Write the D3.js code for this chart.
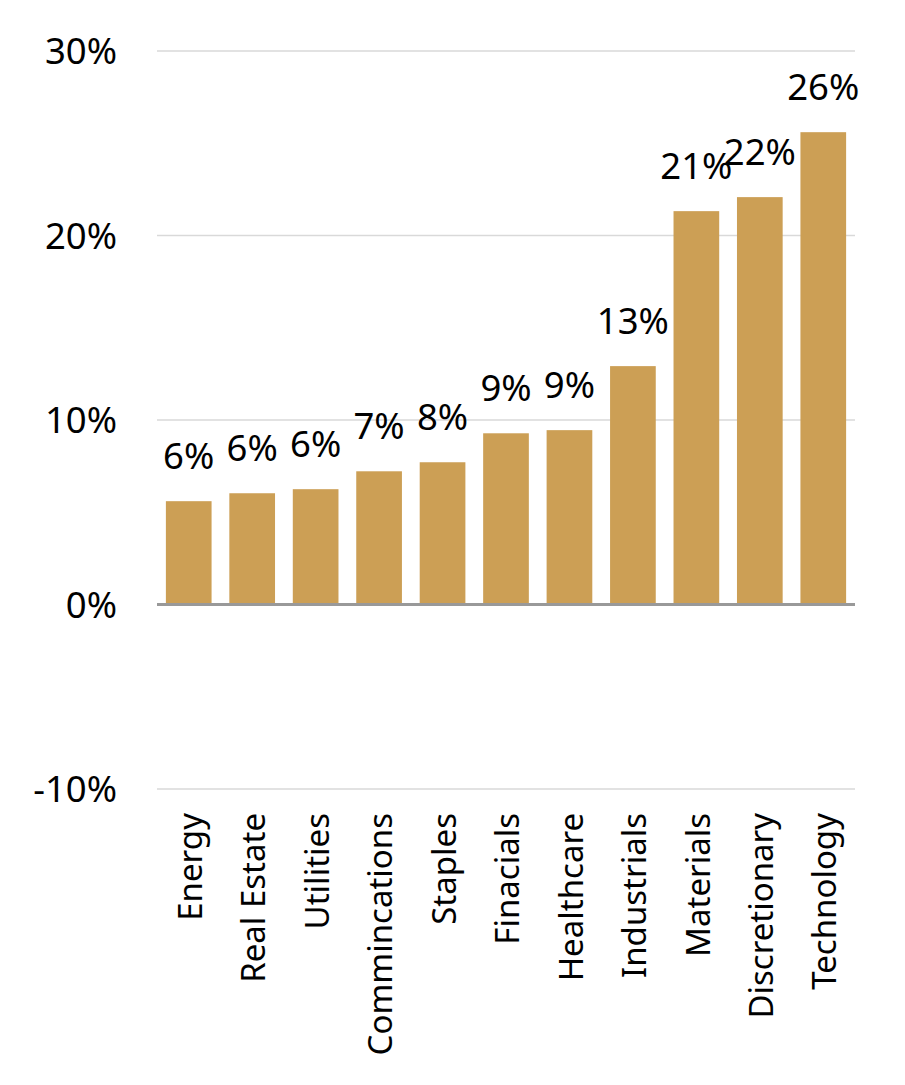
<!DOCTYPE html>
<html>
<head>
<meta charset="utf-8">
<script src="https://cdn.jsdelivr.net/npm/d3@7"></script>
<style>
    body { margin: 0; background: #fff; }
    svg text { font-family: "Noto Sans", "Open Sans", sans-serif; fill: #000; }
</style>
</head>
<body>
<svg id="chart"></svg>
<script>
// データ
const categories = ["Energy", "Real Estate", "Utilities", "Commincations", "Staples",
    "Finacials", "Healthcare", "Industrials", "Materials", "Discretionary", "Technology"];
const returns = [5.6, 6.03, 6.25, 7.22, 7.71, 9.28, 9.45, 12.92, 21.32, 22.08, 25.6];
const yTicks = [-10, 0, 10, 20, 30];

const width = 905;
const height = 1085;
const margin = { top: 51, right: 50, bottom: 296, left: 157 };

const svg = d3.select("#chart")
    .attr("width", width)
    .attr("height", height);

const x = d3.scaleBand()
    .domain(categories)
    .range([margin.left, width - margin.right])
    .paddingInner(0.28)
    .paddingOuter(0.14);

const y = d3.scaleLinear()
    .domain([-10, 30])
    .range([height - margin.bottom, margin.top]);

// グリッド線
svg.append("g")
    .selectAll("line")
    .data(yTicks.filter(d => d !== 0))
    .join("line")
    .attr("x1", margin.left)
    .attr("x2", width - margin.right)
    .attr("y1", d => y(d))
    .attr("y2", d => y(d))
    .attr("stroke", "#d9d9d9")
    .attr("stroke-width", 1.5);

// Y軸ラベル
svg.append("g")
    .selectAll("text")
    .data(yTicks)
    .join("text")
    .attr("x", 117)
    .attr("y", d => y(d))
    .attr("dy", "0.36em")
    .attr("text-anchor", "end")
    .style("font-size", "36.5px")
    .text(d => d + "%");

// 棒
svg.append("g")
    .selectAll("rect")
    .data(returns)
    .join("rect")
    .attr("x", (d, i) => x(categories[i]))
    .attr("y", d => y(d))
    .attr("width", x.bandwidth())
    .attr("height", d => y(0) - y(d))
    .attr("fill", "#cc9f55");

// ゼロ線
svg.append("line")
    .attr("x1", margin.left)
    .attr("x2", width - margin.right)
    .attr("y1", y(0))
    .attr("y2", y(0))
    .attr("stroke", "#999")
    .attr("stroke-width", 3);

// 値ラベル
svg.append("g")
    .selectAll("text")
    .data(returns)
    .join("text")
    .attr("x", (d, i) => x(categories[i]) + x.bandwidth() / 2)
    .attr("y", d => y(d) - 32)
    .attr("text-anchor", "middle")
    .style("font-size", "36.5px")
    .text(d => Math.round(d) + "%");

// カテゴリラベル
svg.append("g")
    .selectAll("text")
    .data(categories)
    .join("text")
    .attr("transform", d => `translate(${x(d) + x.bandwidth() / 2},${y(-10) + 24}) rotate(-90)`)
    .attr("dy", "0.4em")
    .attr("text-anchor", "end")
    .style("font-size", "33px")
    .text(d => d);
</script>
</body>
</html>
